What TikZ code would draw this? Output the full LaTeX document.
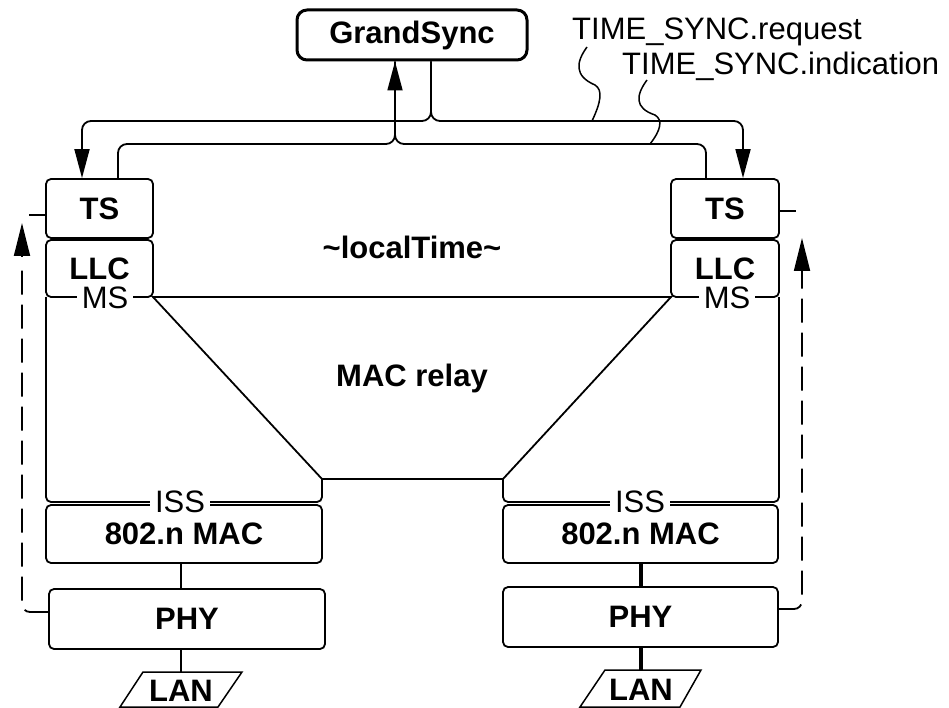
\documentclass[tikz,border=0pt]{standalone}
\usepackage{fontspec}
\setmainfont{Liberation Sans}
\usetikzlibrary{arrows.meta,calc}
\newcommand\myfs{\fontsize{31}{36}\selectfont}
\begin{document}
\begin{tikzpicture}[x=1pt,y=-1pt,
  ln/.style={line width=1.8pt},
  box/.style={draw, line width=1.8pt, rounded corners=5pt, inner sep=0pt, font=\myfs\bfseries},
  tip/.style={-{Triangle[length=29pt,width=15pt]}},
  dtip/.style={-{Triangle[length=33pt,width=16pt]}},
  lbl/.style={font=\myfs, inner sep=0pt},
  cut/.style={fill=white, font=\myfs, inner xsep=5pt, inner ysep=0pt},
  btxt/.style={font=\myfs\bfseries, inner sep=0pt}]
\useasboundingbox (0,0) rectangle (949,708);

% boxes
\node[box, minimum width=230pt, minimum height=50pt, line width=3pt, rounded corners=10pt] (gs) at (412,35) {GrandSync};
\node[box, minimum width=107pt, minimum height=59pt] (tsL) at (99.5,208.5) {TS};
\node[box, minimum width=107pt, minimum height=57pt] (llcL) at (99.5,268.5) {LLC};
\node[box, minimum width=108pt, minimum height=59pt] (tsR) at (725,208.5) {TS};
\node[box, minimum width=108pt, minimum height=57pt] (llcR) at (725,268.5) {LLC};
\node[box, minimum width=276pt, minimum height=58pt] (macL) at (184,534) {802.n MAC};
\node[box, minimum width=275pt, minimum height=58pt] (macR) at (640.5,534) {802.n MAC};
\node[box, minimum width=276pt, minimum height=60pt] (phyL) at (187,619) {PHY};
\node[box, minimum width=275pt, minimum height=60pt] (phyR) at (640.5,617) {PHY};

% port outlines and relay
\draw[ln, rounded corners=5pt] (46,297) -- (46,502) -- (322,502) -- (322,479);
\draw[ln, rounded corners=5pt] (779,297) -- (779,502) -- (503,502) -- (503,479);
\draw[ln] (153,297) -- (322,479) -- (503,479) -- (671,297) -- cycle;

\node[btxt] (lt) at (412,247) {\textasciitilde localTime\textasciitilde};
\node[btxt] (mr) at (412,378) {MAC relay};

% LAN
\draw[line width=1.5pt] (143,672) -- (242,672) -- (218,707) -- (120,707) -- cycle;
\node[btxt] (lanL) at (181,691) {LAN};
\coordinate (lanLtop) at (181,672);
\draw[line width=1.5pt] (605,670) -- (701,670) -- (680,707) -- (580,707) -- cycle;
\node[btxt] (lanR) at (641,690) {LAN};
\coordinate (lanRtop) at (641,670);

% vertical connectors
\draw[line width=2.2pt] (macL.south -| 181,0) -- (phyL.north -| 181,0);
\draw[line width=2.2pt] (phyL.south -| 181,0) -- (lanLtop);
\draw[line width=3.6pt] (macR.south -| 641,0) -- (phyR.north -| 641,0);
\draw[line width=3.6pt] (phyR.south -| 641,0) -- (lanRtop);

% TIME_SYNC lines
\coordinate (indj) at (431,121);
\coordinate (reqj) at (395,144);
\draw[ln, rounded corners=9pt, tip] ([xshift=19pt]gs.south) -- (indj) -| ([xshift=-17.5pt]tsL.north);
\draw[ln, rounded corners=9pt, tip] ([xshift=19pt]gs.south) -- (indj) -| ([xshift=18pt]tsR.north);
\draw[ln, rounded corners=9pt] ([xshift=18.5pt]tsL.north) |- (reqj) -- ([xshift=-17pt]gs.south);
\draw[ln, rounded corners=9pt, tip] ([xshift=-19pt]tsR.north) |- (reqj) -- ([xshift=-17pt]gs.south);

% labels and leaders
\node[lbl, anchor=base west] (req) at (572,40) {TIME\_SYNC.request};
\node[lbl, anchor=base west] (ind) at (622,75) {TIME\_SYNC.indication};
\coordinate (reqs) at (587,47);
\coordinate (reqe) at (592,121);
\coordinate (inds) at (647,80);
\coordinate (inde) at (650,144);
\draw[line width=1.5pt] (reqs) .. controls (576,62) and (574,76) .. (595,85) .. controls (603,90) and (601,102) .. (reqe);
\draw[line width=1.5pt] (inds) .. controls (636,95) and (634,108) .. (655,115) .. controls (663,120) and (661,130) .. (inde);

% dashed feedback
\draw[ln, dash pattern=on 24pt off 10pt, rounded corners=8pt] ([yshift=7pt]phyL.west) -| (22,270);
\draw[ln, dtip] (22,257) -- (22,223);
\draw[ln] ([yshift=-6.5pt]tsL.west) -- ++(-16,0);
\draw[ln, dash pattern=on 24pt off 10pt, rounded corners=8pt] ([yshift=8pt]phyR.east) -| (802,270);
\draw[ln, dtip] (802,271) -- (802,238);
\draw[ln] ([yshift=-2.5pt]tsR.east) -- ++(16,0);

% interface labels
\node[cut] (msL) at (105,298) {MS};
\node[cut] (msR) at (727,298) {MS};
\node[cut] (issL) at (180,502) {ISS};
\node[cut] (issR) at (640,502) {ISS};
\end{tikzpicture}
\end{document}
